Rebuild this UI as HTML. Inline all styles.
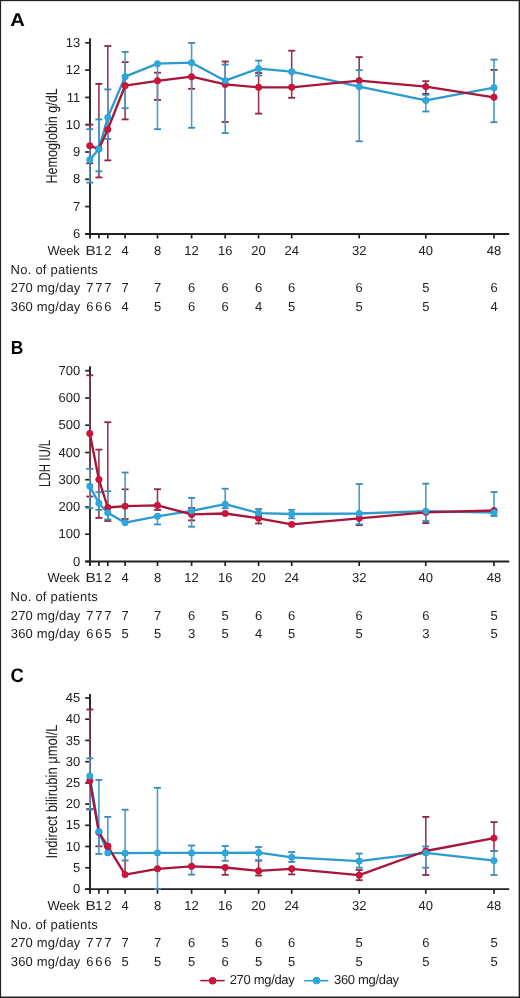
<!DOCTYPE html><html><head><meta charset="utf-8"><style>
html,body{margin:0;padding:0;background:#fff;}
svg{display:block;will-change:transform;}
text{font-family:"Liberation Sans",sans-serif;fill:#222;text-rendering:geometricPrecision;}
.t{font-size:13px;}
.yl{font-size:15.7px;}
.pl{font-size:18.6px;font-weight:700;fill:#000;}
</style></head><body>
<svg width="520" height="998" viewBox="0 0 520 998">
<rect x="0" y="0" width="520" height="998" fill="#fff"/>
<text class="pl" transform="translate(10.32 25.65) scale(1.090 1.000)">A</text>
<text class="yl" text-anchor="middle" textLength="95.4" lengthAdjust="spacingAndGlyphs" transform="translate(56.90 135.90) rotate(-90)" x="0" y="0">Hemoglobin g/dL</text>
<line x1="90" y1="38.3" x2="90" y2="238.5" stroke="#231F20" stroke-width="1.9"/>
<line x1="85.2" y1="234.0" x2="509.2" y2="234.0" stroke="#231F20" stroke-width="1.8"/>
<line x1="85.2" y1="42.8" x2="90" y2="42.8" stroke="#231F20" stroke-width="1.7"/>
<text class="t" text-anchor="end" x="80.3" y="46.9">13</text>
<line x1="85.2" y1="70.1" x2="90" y2="70.1" stroke="#231F20" stroke-width="1.7"/>
<text class="t" text-anchor="end" x="80.3" y="74.2">12</text>
<line x1="85.2" y1="97.4" x2="90" y2="97.4" stroke="#231F20" stroke-width="1.7"/>
<text class="t" text-anchor="end" x="80.3" y="101.5">11</text>
<line x1="85.2" y1="124.7" x2="90" y2="124.7" stroke="#231F20" stroke-width="1.7"/>
<text class="t" text-anchor="end" x="80.3" y="128.8">10</text>
<line x1="85.2" y1="152.0" x2="90" y2="152.0" stroke="#231F20" stroke-width="1.7"/>
<text class="t" text-anchor="end" x="80.3" y="156.1">9</text>
<line x1="85.2" y1="179.3" x2="90" y2="179.3" stroke="#231F20" stroke-width="1.7"/>
<text class="t" text-anchor="end" x="80.3" y="183.4">8</text>
<line x1="85.2" y1="206.6" x2="90" y2="206.6" stroke="#231F20" stroke-width="1.7"/>
<text class="t" text-anchor="end" x="80.3" y="210.7">7</text>
<line x1="85.2" y1="234.0" x2="90" y2="234.0" stroke="#231F20" stroke-width="1.7"/>
<text class="t" text-anchor="end" x="80.3" y="238.1">6</text>
<line x1="98.9" y1="234.0" x2="98.9" y2="238.5" stroke="#231F20" stroke-width="1.7"/>
<line x1="107.8" y1="234.0" x2="107.8" y2="238.5" stroke="#231F20" stroke-width="1.7"/>
<line x1="125.1" y1="234.0" x2="125.1" y2="238.5" stroke="#231F20" stroke-width="1.7"/>
<line x1="157.5" y1="234.0" x2="157.5" y2="238.5" stroke="#231F20" stroke-width="1.7"/>
<line x1="191.6" y1="234.0" x2="191.6" y2="238.5" stroke="#231F20" stroke-width="1.7"/>
<line x1="225.2" y1="234.0" x2="225.2" y2="238.5" stroke="#231F20" stroke-width="1.7"/>
<line x1="258.6" y1="234.0" x2="258.6" y2="238.5" stroke="#231F20" stroke-width="1.7"/>
<line x1="291.7" y1="234.0" x2="291.7" y2="238.5" stroke="#231F20" stroke-width="1.7"/>
<line x1="359.2" y1="234.0" x2="359.2" y2="238.5" stroke="#231F20" stroke-width="1.7"/>
<line x1="425.8" y1="234.0" x2="425.8" y2="238.5" stroke="#231F20" stroke-width="1.7"/>
<line x1="494.0" y1="234.0" x2="494.0" y2="238.5" stroke="#231F20" stroke-width="1.7"/>
<text class="t" text-anchor="end" x="79.4" y="254.85" letter-spacing="-0.3">Week</text>
<text class="t" x="10.6" y="273.75" letter-spacing="0.24">No. of patients</text>
<text class="t" x="10.8" y="292.10" letter-spacing="0.18">270 mg/day</text>
<text class="t" x="10.8" y="310.70" letter-spacing="0.18">360 mg/day</text>
<text class="t" x="85.5" y="254.85" textLength="10.2" lengthAdjust="spacingAndGlyphs">B</text>
<text class="t" text-anchor="middle" x="98.9" y="254.85">1</text>
<text class="t" text-anchor="middle" x="107.8" y="254.85">2</text>
<text class="t" text-anchor="middle" x="125.1" y="254.85">4</text>
<text class="t" text-anchor="middle" x="157.5" y="254.85">8</text>
<text class="t" text-anchor="middle" x="191.6" y="254.85">12</text>
<text class="t" text-anchor="middle" x="225.2" y="254.85">16</text>
<text class="t" text-anchor="middle" x="258.6" y="254.85">20</text>
<text class="t" text-anchor="middle" x="291.7" y="254.85">24</text>
<text class="t" text-anchor="middle" x="359.2" y="254.85">32</text>
<text class="t" text-anchor="middle" x="425.8" y="254.85">40</text>
<text class="t" text-anchor="middle" x="494.0" y="254.85">48</text>
<text class="t" text-anchor="middle" x="89.8" y="292.1">7</text>
<text class="t" text-anchor="middle" x="98.9" y="292.1">7</text>
<text class="t" text-anchor="middle" x="107.8" y="292.1">7</text>
<text class="t" text-anchor="middle" x="125.1" y="292.1">7</text>
<text class="t" text-anchor="middle" x="157.5" y="292.1">7</text>
<text class="t" text-anchor="middle" x="191.6" y="292.1">6</text>
<text class="t" text-anchor="middle" x="225.2" y="292.1">6</text>
<text class="t" text-anchor="middle" x="258.6" y="292.1">6</text>
<text class="t" text-anchor="middle" x="291.7" y="292.1">6</text>
<text class="t" text-anchor="middle" x="359.2" y="292.1">6</text>
<text class="t" text-anchor="middle" x="425.8" y="292.1">5</text>
<text class="t" text-anchor="middle" x="494.0" y="292.1">6</text>
<text class="t" text-anchor="middle" x="89.8" y="310.7">6</text>
<text class="t" text-anchor="middle" x="98.9" y="310.7">6</text>
<text class="t" text-anchor="middle" x="107.8" y="310.7">6</text>
<text class="t" text-anchor="middle" x="125.1" y="310.7">4</text>
<text class="t" text-anchor="middle" x="157.5" y="310.7">5</text>
<text class="t" text-anchor="middle" x="191.6" y="310.7">6</text>
<text class="t" text-anchor="middle" x="225.2" y="310.7">6</text>
<text class="t" text-anchor="middle" x="258.6" y="310.7">4</text>
<text class="t" text-anchor="middle" x="291.7" y="310.7">5</text>
<text class="t" text-anchor="middle" x="359.2" y="310.7">5</text>
<text class="t" text-anchor="middle" x="425.8" y="310.7">5</text>
<text class="t" text-anchor="middle" x="494.0" y="310.7">4</text>
<line x1="89.8" y1="124.6" x2="89.8" y2="163.3" stroke="#9A3655" stroke-width="1.6"/>
<line x1="86.3" y1="124.6" x2="93.3" y2="124.6" stroke="#8E2545" stroke-width="1.8"/>
<line x1="86.3" y1="163.3" x2="93.3" y2="163.3" stroke="#8E2545" stroke-width="1.8"/>
<line x1="98.9" y1="83.9" x2="98.9" y2="177.4" stroke="#9A3655" stroke-width="1.6"/>
<line x1="95.4" y1="83.9" x2="102.4" y2="83.9" stroke="#8E2545" stroke-width="1.8"/>
<line x1="95.4" y1="177.4" x2="102.4" y2="177.4" stroke="#8E2545" stroke-width="1.8"/>
<line x1="107.8" y1="46.0" x2="107.8" y2="160.4" stroke="#9A3655" stroke-width="1.6"/>
<line x1="104.3" y1="46.0" x2="111.3" y2="46.0" stroke="#8E2545" stroke-width="1.8"/>
<line x1="104.3" y1="160.4" x2="111.3" y2="160.4" stroke="#8E2545" stroke-width="1.8"/>
<line x1="125.1" y1="62.1" x2="125.1" y2="119.4" stroke="#9A3655" stroke-width="1.6"/>
<line x1="121.6" y1="62.1" x2="128.6" y2="62.1" stroke="#8E2545" stroke-width="1.8"/>
<line x1="121.6" y1="119.4" x2="128.6" y2="119.4" stroke="#8E2545" stroke-width="1.8"/>
<line x1="157.5" y1="72.7" x2="157.5" y2="99.9" stroke="#9A3655" stroke-width="1.6"/>
<line x1="154.0" y1="72.7" x2="161.0" y2="72.7" stroke="#8E2545" stroke-width="1.8"/>
<line x1="154.0" y1="99.9" x2="161.0" y2="99.9" stroke="#8E2545" stroke-width="1.8"/>
<line x1="191.6" y1="76.7" x2="191.6" y2="88.8" stroke="#9A3655" stroke-width="1.6"/>
<line x1="188.1" y1="88.8" x2="195.1" y2="88.8" stroke="#8E2545" stroke-width="1.8"/>
<line x1="225.2" y1="61.5" x2="225.2" y2="122.0" stroke="#9A3655" stroke-width="1.6"/>
<line x1="221.7" y1="61.5" x2="228.7" y2="61.5" stroke="#8E2545" stroke-width="1.8"/>
<line x1="221.7" y1="122.0" x2="228.7" y2="122.0" stroke="#8E2545" stroke-width="1.8"/>
<line x1="258.6" y1="73.0" x2="258.6" y2="113.6" stroke="#9A3655" stroke-width="1.6"/>
<line x1="255.1" y1="73.0" x2="262.1" y2="73.0" stroke="#8E2545" stroke-width="1.8"/>
<line x1="255.1" y1="113.6" x2="262.1" y2="113.6" stroke="#8E2545" stroke-width="1.8"/>
<line x1="291.7" y1="50.7" x2="291.7" y2="97.8" stroke="#9A3655" stroke-width="1.6"/>
<line x1="288.2" y1="50.7" x2="295.2" y2="50.7" stroke="#8E2545" stroke-width="1.8"/>
<line x1="288.2" y1="97.8" x2="295.2" y2="97.8" stroke="#8E2545" stroke-width="1.8"/>
<line x1="359.2" y1="57.1" x2="359.2" y2="80.6" stroke="#9A3655" stroke-width="1.6"/>
<line x1="355.7" y1="57.1" x2="362.7" y2="57.1" stroke="#8E2545" stroke-width="1.8"/>
<line x1="425.8" y1="81.2" x2="425.8" y2="93.9" stroke="#9A3655" stroke-width="1.6"/>
<line x1="422.3" y1="81.2" x2="429.3" y2="81.2" stroke="#8E2545" stroke-width="1.8"/>
<line x1="422.3" y1="93.9" x2="429.3" y2="93.9" stroke="#8E2545" stroke-width="1.8"/>
<line x1="494.0" y1="69.9" x2="494.0" y2="97.3" stroke="#9A3655" stroke-width="1.6"/>
<line x1="490.5" y1="69.9" x2="497.5" y2="69.9" stroke="#8E2545" stroke-width="1.8"/>
<line x1="89.8" y1="129.2" x2="89.8" y2="182.6" stroke="#4A9DCB" stroke-width="1.6"/>
<line x1="86.3" y1="129.2" x2="93.3" y2="129.2" stroke="#3A8AB8" stroke-width="1.8"/>
<line x1="86.3" y1="182.6" x2="93.3" y2="182.6" stroke="#3A8AB8" stroke-width="1.8"/>
<line x1="98.9" y1="119.4" x2="98.9" y2="171.3" stroke="#4A9DCB" stroke-width="1.6"/>
<line x1="95.4" y1="119.4" x2="102.4" y2="119.4" stroke="#3A8AB8" stroke-width="1.8"/>
<line x1="95.4" y1="171.3" x2="102.4" y2="171.3" stroke="#3A8AB8" stroke-width="1.8"/>
<line x1="107.8" y1="89.4" x2="107.8" y2="139.0" stroke="#4A9DCB" stroke-width="1.6"/>
<line x1="104.3" y1="89.4" x2="111.3" y2="89.4" stroke="#3A8AB8" stroke-width="1.8"/>
<line x1="104.3" y1="139.0" x2="111.3" y2="139.0" stroke="#3A8AB8" stroke-width="1.8"/>
<line x1="125.1" y1="51.9" x2="125.1" y2="108.2" stroke="#4A9DCB" stroke-width="1.6"/>
<line x1="121.6" y1="51.9" x2="128.6" y2="51.9" stroke="#3A8AB8" stroke-width="1.8"/>
<line x1="121.6" y1="108.2" x2="128.6" y2="108.2" stroke="#3A8AB8" stroke-width="1.8"/>
<line x1="157.5" y1="63.7" x2="157.5" y2="129.2" stroke="#4A9DCB" stroke-width="1.6"/>
<line x1="154.0" y1="129.2" x2="161.0" y2="129.2" stroke="#3A8AB8" stroke-width="1.8"/>
<line x1="191.6" y1="42.9" x2="191.6" y2="127.8" stroke="#4A9DCB" stroke-width="1.6"/>
<line x1="188.1" y1="42.9" x2="195.1" y2="42.9" stroke="#3A8AB8" stroke-width="1.8"/>
<line x1="188.1" y1="127.8" x2="195.1" y2="127.8" stroke="#3A8AB8" stroke-width="1.8"/>
<line x1="225.2" y1="64.6" x2="225.2" y2="133.1" stroke="#4A9DCB" stroke-width="1.6"/>
<line x1="221.7" y1="64.6" x2="228.7" y2="64.6" stroke="#3A8AB8" stroke-width="1.8"/>
<line x1="221.7" y1="133.1" x2="228.7" y2="133.1" stroke="#3A8AB8" stroke-width="1.8"/>
<line x1="258.6" y1="60.6" x2="258.6" y2="75.6" stroke="#4A9DCB" stroke-width="1.6"/>
<line x1="255.1" y1="60.6" x2="262.1" y2="60.6" stroke="#3A8AB8" stroke-width="1.8"/>
<line x1="255.1" y1="75.6" x2="262.1" y2="75.6" stroke="#3A8AB8" stroke-width="1.8"/>
<line x1="291.7" y1="71.7" x2="291.7" y2="87.0" stroke="#4A9DCB" stroke-width="1.6"/>
<line x1="288.2" y1="87.0" x2="295.2" y2="87.0" stroke="#3A8AB8" stroke-width="1.8"/>
<line x1="359.2" y1="70.2" x2="359.2" y2="141.3" stroke="#4A9DCB" stroke-width="1.6"/>
<line x1="355.7" y1="70.2" x2="362.7" y2="70.2" stroke="#3A8AB8" stroke-width="1.8"/>
<line x1="355.7" y1="141.3" x2="362.7" y2="141.3" stroke="#3A8AB8" stroke-width="1.8"/>
<line x1="425.8" y1="94.8" x2="425.8" y2="111.5" stroke="#4A9DCB" stroke-width="1.6"/>
<line x1="422.3" y1="94.8" x2="429.3" y2="94.8" stroke="#3A8AB8" stroke-width="1.8"/>
<line x1="422.3" y1="111.5" x2="429.3" y2="111.5" stroke="#3A8AB8" stroke-width="1.8"/>
<line x1="494.0" y1="59.6" x2="494.0" y2="122.2" stroke="#4A9DCB" stroke-width="1.6"/>
<line x1="490.5" y1="59.6" x2="497.5" y2="59.6" stroke="#3A8AB8" stroke-width="1.8"/>
<line x1="490.5" y1="122.2" x2="497.5" y2="122.2" stroke="#3A8AB8" stroke-width="1.8"/>
<polyline points="89.8,159.7 98.9,148.9 107.8,117.4 125.1,76.7 157.5,63.7 191.6,62.7 225.2,80.7 258.6,68.6 291.7,71.7 359.2,86.7 425.8,100.4 494.0,87.7" fill="none" stroke="#2C9BD0" stroke-width="2.35" stroke-linejoin="round"/>
<polyline points="89.8,145.8 98.9,148.8 107.8,129.4 125.1,85.7 157.5,80.8 191.6,76.7 225.2,84.4 258.6,87.3 291.7,87.3 359.2,80.6 425.8,86.6 494.0,97.3" fill="none" stroke="#A8153A" stroke-width="2.35" stroke-linejoin="round"/>
<circle cx="89.8" cy="145.8" r="3.20" fill="#D3123C" stroke="#A8122F" stroke-width="0.6"/>
<circle cx="98.9" cy="148.8" r="3.20" fill="#D3123C" stroke="#A8122F" stroke-width="0.6"/>
<circle cx="107.8" cy="129.4" r="3.20" fill="#D3123C" stroke="#A8122F" stroke-width="0.6"/>
<circle cx="125.1" cy="85.7" r="3.20" fill="#D3123C" stroke="#A8122F" stroke-width="0.6"/>
<circle cx="157.5" cy="80.8" r="3.20" fill="#D3123C" stroke="#A8122F" stroke-width="0.6"/>
<circle cx="191.6" cy="76.7" r="3.20" fill="#D3123C" stroke="#A8122F" stroke-width="0.6"/>
<circle cx="225.2" cy="84.4" r="3.20" fill="#D3123C" stroke="#A8122F" stroke-width="0.6"/>
<circle cx="258.6" cy="87.3" r="3.20" fill="#D3123C" stroke="#A8122F" stroke-width="0.6"/>
<circle cx="291.7" cy="87.3" r="3.20" fill="#D3123C" stroke="#A8122F" stroke-width="0.6"/>
<circle cx="359.2" cy="80.6" r="3.20" fill="#D3123C" stroke="#A8122F" stroke-width="0.6"/>
<circle cx="425.8" cy="86.6" r="3.20" fill="#D3123C" stroke="#A8122F" stroke-width="0.6"/>
<circle cx="494.0" cy="97.3" r="3.20" fill="#D3123C" stroke="#A8122F" stroke-width="0.6"/>
<circle cx="89.8" cy="159.7" r="3.20" fill="#29AAE1" stroke="#2A96C8" stroke-width="0.6"/>
<circle cx="98.9" cy="148.9" r="3.20" fill="#29AAE1" stroke="#2A96C8" stroke-width="0.6"/>
<circle cx="107.8" cy="117.4" r="3.20" fill="#29AAE1" stroke="#2A96C8" stroke-width="0.6"/>
<circle cx="125.1" cy="76.7" r="3.20" fill="#29AAE1" stroke="#2A96C8" stroke-width="0.6"/>
<circle cx="157.5" cy="63.7" r="3.20" fill="#29AAE1" stroke="#2A96C8" stroke-width="0.6"/>
<circle cx="191.6" cy="62.7" r="3.20" fill="#29AAE1" stroke="#2A96C8" stroke-width="0.6"/>
<circle cx="225.2" cy="80.7" r="3.20" fill="#29AAE1" stroke="#2A96C8" stroke-width="0.6"/>
<circle cx="258.6" cy="68.6" r="3.20" fill="#29AAE1" stroke="#2A96C8" stroke-width="0.6"/>
<circle cx="291.7" cy="71.7" r="3.20" fill="#29AAE1" stroke="#2A96C8" stroke-width="0.6"/>
<circle cx="359.2" cy="86.7" r="3.20" fill="#29AAE1" stroke="#2A96C8" stroke-width="0.6"/>
<circle cx="425.8" cy="100.4" r="3.20" fill="#29AAE1" stroke="#2A96C8" stroke-width="0.6"/>
<circle cx="494.0" cy="87.7" r="3.20" fill="#29AAE1" stroke="#2A96C8" stroke-width="0.6"/>
<text class="pl" transform="translate(10.83 353.55) scale(0.935 1.020)">B</text>
<text class="yl" text-anchor="middle" textLength="47.1" lengthAdjust="spacingAndGlyphs" transform="translate(49.90 463.35) rotate(-90)" x="0" y="0">LDH IU/L</text>
<line x1="90" y1="366.3" x2="90" y2="566.0" stroke="#231F20" stroke-width="1.9"/>
<line x1="85.2" y1="561.5" x2="509.2" y2="561.5" stroke="#231F20" stroke-width="1.8"/>
<line x1="85.2" y1="370.7" x2="90" y2="370.7" stroke="#231F20" stroke-width="1.7"/>
<text class="t" text-anchor="end" x="80.3" y="374.8">700</text>
<line x1="85.2" y1="398.0" x2="90" y2="398.0" stroke="#231F20" stroke-width="1.7"/>
<text class="t" text-anchor="end" x="80.3" y="402.1">600</text>
<line x1="85.2" y1="425.2" x2="90" y2="425.2" stroke="#231F20" stroke-width="1.7"/>
<text class="t" text-anchor="end" x="80.3" y="429.3">500</text>
<line x1="85.2" y1="452.5" x2="90" y2="452.5" stroke="#231F20" stroke-width="1.7"/>
<text class="t" text-anchor="end" x="80.3" y="456.6">400</text>
<line x1="85.2" y1="479.7" x2="90" y2="479.7" stroke="#231F20" stroke-width="1.7"/>
<text class="t" text-anchor="end" x="80.3" y="483.8">300</text>
<line x1="85.2" y1="507.0" x2="90" y2="507.0" stroke="#231F20" stroke-width="1.7"/>
<text class="t" text-anchor="end" x="80.3" y="511.1">200</text>
<line x1="85.2" y1="534.2" x2="90" y2="534.2" stroke="#231F20" stroke-width="1.7"/>
<text class="t" text-anchor="end" x="80.3" y="538.3">100</text>
<line x1="85.2" y1="561.5" x2="90" y2="561.5" stroke="#231F20" stroke-width="1.7"/>
<text class="t" text-anchor="end" x="80.3" y="565.6">0</text>
<line x1="98.9" y1="561.5" x2="98.9" y2="566.0" stroke="#231F20" stroke-width="1.7"/>
<line x1="107.8" y1="561.5" x2="107.8" y2="566.0" stroke="#231F20" stroke-width="1.7"/>
<line x1="125.1" y1="561.5" x2="125.1" y2="566.0" stroke="#231F20" stroke-width="1.7"/>
<line x1="157.5" y1="561.5" x2="157.5" y2="566.0" stroke="#231F20" stroke-width="1.7"/>
<line x1="191.6" y1="561.5" x2="191.6" y2="566.0" stroke="#231F20" stroke-width="1.7"/>
<line x1="225.2" y1="561.5" x2="225.2" y2="566.0" stroke="#231F20" stroke-width="1.7"/>
<line x1="258.6" y1="561.5" x2="258.6" y2="566.0" stroke="#231F20" stroke-width="1.7"/>
<line x1="291.7" y1="561.5" x2="291.7" y2="566.0" stroke="#231F20" stroke-width="1.7"/>
<line x1="359.2" y1="561.5" x2="359.2" y2="566.0" stroke="#231F20" stroke-width="1.7"/>
<line x1="425.8" y1="561.5" x2="425.8" y2="566.0" stroke="#231F20" stroke-width="1.7"/>
<line x1="494.0" y1="561.5" x2="494.0" y2="566.0" stroke="#231F20" stroke-width="1.7"/>
<text class="t" text-anchor="end" x="79.4" y="581.90" letter-spacing="-0.3">Week</text>
<text class="t" x="10.6" y="600.80" letter-spacing="0.24">No. of patients</text>
<text class="t" x="10.8" y="619.60" letter-spacing="0.18">270 mg/day</text>
<text class="t" x="10.8" y="638.20" letter-spacing="0.18">360 mg/day</text>
<text class="t" x="85.5" y="581.90" textLength="10.2" lengthAdjust="spacingAndGlyphs">B</text>
<text class="t" text-anchor="middle" x="98.9" y="581.90">1</text>
<text class="t" text-anchor="middle" x="107.8" y="581.90">2</text>
<text class="t" text-anchor="middle" x="125.1" y="581.90">4</text>
<text class="t" text-anchor="middle" x="157.5" y="581.90">8</text>
<text class="t" text-anchor="middle" x="191.6" y="581.90">12</text>
<text class="t" text-anchor="middle" x="225.2" y="581.90">16</text>
<text class="t" text-anchor="middle" x="258.6" y="581.90">20</text>
<text class="t" text-anchor="middle" x="291.7" y="581.90">24</text>
<text class="t" text-anchor="middle" x="359.2" y="581.90">32</text>
<text class="t" text-anchor="middle" x="425.8" y="581.90">40</text>
<text class="t" text-anchor="middle" x="494.0" y="581.90">48</text>
<text class="t" text-anchor="middle" x="89.8" y="619.6">7</text>
<text class="t" text-anchor="middle" x="98.9" y="619.6">7</text>
<text class="t" text-anchor="middle" x="107.8" y="619.6">7</text>
<text class="t" text-anchor="middle" x="125.1" y="619.6">7</text>
<text class="t" text-anchor="middle" x="157.5" y="619.6">7</text>
<text class="t" text-anchor="middle" x="191.6" y="619.6">6</text>
<text class="t" text-anchor="middle" x="225.2" y="619.6">5</text>
<text class="t" text-anchor="middle" x="258.6" y="619.6">6</text>
<text class="t" text-anchor="middle" x="291.7" y="619.6">6</text>
<text class="t" text-anchor="middle" x="359.2" y="619.6">6</text>
<text class="t" text-anchor="middle" x="425.8" y="619.6">6</text>
<text class="t" text-anchor="middle" x="494.0" y="619.6">5</text>
<text class="t" text-anchor="middle" x="89.8" y="638.2">6</text>
<text class="t" text-anchor="middle" x="98.9" y="638.2">6</text>
<text class="t" text-anchor="middle" x="107.8" y="638.2">5</text>
<text class="t" text-anchor="middle" x="125.1" y="638.2">5</text>
<text class="t" text-anchor="middle" x="157.5" y="638.2">5</text>
<text class="t" text-anchor="middle" x="191.6" y="638.2">3</text>
<text class="t" text-anchor="middle" x="225.2" y="638.2">5</text>
<text class="t" text-anchor="middle" x="258.6" y="638.2">4</text>
<text class="t" text-anchor="middle" x="291.7" y="638.2">5</text>
<text class="t" text-anchor="middle" x="359.2" y="638.2">5</text>
<text class="t" text-anchor="middle" x="425.8" y="638.2">3</text>
<text class="t" text-anchor="middle" x="494.0" y="638.2">5</text>
<line x1="89.8" y1="375.3" x2="89.8" y2="496.5" stroke="#9A3655" stroke-width="1.6"/>
<line x1="86.3" y1="375.3" x2="93.3" y2="375.3" stroke="#8E2545" stroke-width="1.8"/>
<line x1="86.3" y1="496.5" x2="93.3" y2="496.5" stroke="#8E2545" stroke-width="1.8"/>
<line x1="98.9" y1="449.6" x2="98.9" y2="517.9" stroke="#9A3655" stroke-width="1.6"/>
<line x1="95.4" y1="449.6" x2="102.4" y2="449.6" stroke="#8E2545" stroke-width="1.8"/>
<line x1="95.4" y1="517.9" x2="102.4" y2="517.9" stroke="#8E2545" stroke-width="1.8"/>
<line x1="107.8" y1="422.2" x2="107.8" y2="521.0" stroke="#9A3655" stroke-width="1.6"/>
<line x1="104.3" y1="422.2" x2="111.3" y2="422.2" stroke="#8E2545" stroke-width="1.8"/>
<line x1="104.3" y1="521.0" x2="111.3" y2="521.0" stroke="#8E2545" stroke-width="1.8"/>
<line x1="125.1" y1="489.3" x2="125.1" y2="519.0" stroke="#9A3655" stroke-width="1.6"/>
<line x1="121.6" y1="489.3" x2="128.6" y2="489.3" stroke="#8E2545" stroke-width="1.8"/>
<line x1="121.6" y1="519.0" x2="128.6" y2="519.0" stroke="#8E2545" stroke-width="1.8"/>
<line x1="157.5" y1="489.2" x2="157.5" y2="510.0" stroke="#9A3655" stroke-width="1.6"/>
<line x1="154.0" y1="489.2" x2="161.0" y2="489.2" stroke="#8E2545" stroke-width="1.8"/>
<line x1="154.0" y1="510.0" x2="161.0" y2="510.0" stroke="#8E2545" stroke-width="1.8"/>
<line x1="191.6" y1="508.0" x2="191.6" y2="520.4" stroke="#9A3655" stroke-width="1.6"/>
<line x1="188.1" y1="508.0" x2="195.1" y2="508.0" stroke="#8E2545" stroke-width="1.8"/>
<line x1="188.1" y1="520.4" x2="195.1" y2="520.4" stroke="#8E2545" stroke-width="1.8"/>
<line x1="225.2" y1="513.5" x2="225.2" y2="513.5" stroke="#9A3655" stroke-width="1.6"/>
<line x1="258.6" y1="513.0" x2="258.6" y2="523.5" stroke="#9A3655" stroke-width="1.6"/>
<line x1="255.1" y1="513.0" x2="262.1" y2="513.0" stroke="#8E2545" stroke-width="1.8"/>
<line x1="255.1" y1="523.5" x2="262.1" y2="523.5" stroke="#8E2545" stroke-width="1.8"/>
<line x1="291.7" y1="524.4" x2="291.7" y2="524.4" stroke="#9A3655" stroke-width="1.6"/>
<line x1="359.2" y1="518.3" x2="359.2" y2="525.2" stroke="#9A3655" stroke-width="1.6"/>
<line x1="355.7" y1="525.2" x2="362.7" y2="525.2" stroke="#8E2545" stroke-width="1.8"/>
<line x1="425.8" y1="512.3" x2="425.8" y2="523.1" stroke="#9A3655" stroke-width="1.6"/>
<line x1="422.3" y1="523.1" x2="429.3" y2="523.1" stroke="#8E2545" stroke-width="1.8"/>
<line x1="494.0" y1="510.5" x2="494.0" y2="510.5" stroke="#9A3655" stroke-width="1.6"/>
<line x1="89.8" y1="468.8" x2="89.8" y2="508.0" stroke="#4A9DCB" stroke-width="1.6"/>
<line x1="86.3" y1="468.8" x2="93.3" y2="468.8" stroke="#3A8AB8" stroke-width="1.8"/>
<line x1="86.3" y1="508.0" x2="93.3" y2="508.0" stroke="#3A8AB8" stroke-width="1.8"/>
<line x1="98.9" y1="492.2" x2="98.9" y2="509.8" stroke="#4A9DCB" stroke-width="1.6"/>
<line x1="95.4" y1="492.2" x2="102.4" y2="492.2" stroke="#3A8AB8" stroke-width="1.8"/>
<line x1="95.4" y1="509.8" x2="102.4" y2="509.8" stroke="#3A8AB8" stroke-width="1.8"/>
<line x1="107.8" y1="491.2" x2="107.8" y2="519.5" stroke="#4A9DCB" stroke-width="1.6"/>
<line x1="104.3" y1="491.2" x2="111.3" y2="491.2" stroke="#3A8AB8" stroke-width="1.8"/>
<line x1="104.3" y1="519.5" x2="111.3" y2="519.5" stroke="#3A8AB8" stroke-width="1.8"/>
<line x1="125.1" y1="472.5" x2="125.1" y2="522.7" stroke="#4A9DCB" stroke-width="1.6"/>
<line x1="121.6" y1="472.5" x2="128.6" y2="472.5" stroke="#3A8AB8" stroke-width="1.8"/>
<line x1="157.5" y1="516.3" x2="157.5" y2="524.4" stroke="#4A9DCB" stroke-width="1.6"/>
<line x1="154.0" y1="524.4" x2="161.0" y2="524.4" stroke="#3A8AB8" stroke-width="1.8"/>
<line x1="191.6" y1="497.9" x2="191.6" y2="526.7" stroke="#4A9DCB" stroke-width="1.6"/>
<line x1="188.1" y1="497.9" x2="195.1" y2="497.9" stroke="#3A8AB8" stroke-width="1.8"/>
<line x1="188.1" y1="526.7" x2="195.1" y2="526.7" stroke="#3A8AB8" stroke-width="1.8"/>
<line x1="225.2" y1="488.7" x2="225.2" y2="508.3" stroke="#4A9DCB" stroke-width="1.6"/>
<line x1="221.7" y1="488.7" x2="228.7" y2="488.7" stroke="#3A8AB8" stroke-width="1.8"/>
<line x1="221.7" y1="508.3" x2="228.7" y2="508.3" stroke="#3A8AB8" stroke-width="1.8"/>
<line x1="258.6" y1="509.0" x2="258.6" y2="516.0" stroke="#4A9DCB" stroke-width="1.6"/>
<line x1="255.1" y1="509.0" x2="262.1" y2="509.0" stroke="#3A8AB8" stroke-width="1.8"/>
<line x1="255.1" y1="516.0" x2="262.1" y2="516.0" stroke="#3A8AB8" stroke-width="1.8"/>
<line x1="291.7" y1="509.8" x2="291.7" y2="518.3" stroke="#4A9DCB" stroke-width="1.6"/>
<line x1="288.2" y1="509.8" x2="295.2" y2="509.8" stroke="#3A8AB8" stroke-width="1.8"/>
<line x1="288.2" y1="518.3" x2="295.2" y2="518.3" stroke="#3A8AB8" stroke-width="1.8"/>
<line x1="359.2" y1="484.0" x2="359.2" y2="524.3" stroke="#4A9DCB" stroke-width="1.6"/>
<line x1="355.7" y1="484.0" x2="362.7" y2="484.0" stroke="#3A8AB8" stroke-width="1.8"/>
<line x1="355.7" y1="524.3" x2="362.7" y2="524.3" stroke="#3A8AB8" stroke-width="1.8"/>
<line x1="425.8" y1="483.7" x2="425.8" y2="521.0" stroke="#4A9DCB" stroke-width="1.6"/>
<line x1="422.3" y1="483.7" x2="429.3" y2="483.7" stroke="#3A8AB8" stroke-width="1.8"/>
<line x1="422.3" y1="521.0" x2="429.3" y2="521.0" stroke="#3A8AB8" stroke-width="1.8"/>
<line x1="494.0" y1="492.0" x2="494.0" y2="516.0" stroke="#4A9DCB" stroke-width="1.6"/>
<line x1="490.5" y1="492.0" x2="497.5" y2="492.0" stroke="#3A8AB8" stroke-width="1.8"/>
<line x1="490.5" y1="516.0" x2="497.5" y2="516.0" stroke="#3A8AB8" stroke-width="1.8"/>
<polyline points="89.8,486.2 98.9,503.2 107.8,512.8 125.1,522.7 157.5,516.3 191.6,510.9 225.2,504.2 258.6,513.1 291.7,514.0 359.2,513.5 425.8,511.1 494.0,512.5" fill="none" stroke="#2C9BD0" stroke-width="2.35" stroke-linejoin="round"/>
<polyline points="89.8,433.5 98.9,479.5 107.8,507.5 125.1,506.2 157.5,505.4 191.6,514.4 225.2,513.5 258.6,518.3 291.7,524.4 359.2,518.3 425.8,512.3 494.0,510.5" fill="none" stroke="#A8153A" stroke-width="2.35" stroke-linejoin="round"/>
<circle cx="89.8" cy="433.5" r="3.20" fill="#D3123C" stroke="#A8122F" stroke-width="0.6"/>
<circle cx="98.9" cy="479.5" r="3.20" fill="#D3123C" stroke="#A8122F" stroke-width="0.6"/>
<circle cx="107.8" cy="507.5" r="3.20" fill="#D3123C" stroke="#A8122F" stroke-width="0.6"/>
<circle cx="125.1" cy="506.2" r="3.20" fill="#D3123C" stroke="#A8122F" stroke-width="0.6"/>
<circle cx="157.5" cy="505.4" r="3.20" fill="#D3123C" stroke="#A8122F" stroke-width="0.6"/>
<circle cx="191.6" cy="514.4" r="3.20" fill="#D3123C" stroke="#A8122F" stroke-width="0.6"/>
<circle cx="225.2" cy="513.5" r="3.20" fill="#D3123C" stroke="#A8122F" stroke-width="0.6"/>
<circle cx="258.6" cy="518.3" r="3.20" fill="#D3123C" stroke="#A8122F" stroke-width="0.6"/>
<circle cx="291.7" cy="524.4" r="3.20" fill="#D3123C" stroke="#A8122F" stroke-width="0.6"/>
<circle cx="359.2" cy="518.3" r="3.20" fill="#D3123C" stroke="#A8122F" stroke-width="0.6"/>
<circle cx="425.8" cy="512.3" r="3.20" fill="#D3123C" stroke="#A8122F" stroke-width="0.6"/>
<circle cx="494.0" cy="510.5" r="3.20" fill="#D3123C" stroke="#A8122F" stroke-width="0.6"/>
<circle cx="89.8" cy="486.2" r="3.20" fill="#29AAE1" stroke="#2A96C8" stroke-width="0.6"/>
<circle cx="98.9" cy="503.2" r="3.20" fill="#29AAE1" stroke="#2A96C8" stroke-width="0.6"/>
<circle cx="107.8" cy="512.8" r="3.20" fill="#29AAE1" stroke="#2A96C8" stroke-width="0.6"/>
<circle cx="125.1" cy="522.7" r="3.20" fill="#29AAE1" stroke="#2A96C8" stroke-width="0.6"/>
<circle cx="157.5" cy="516.3" r="3.20" fill="#29AAE1" stroke="#2A96C8" stroke-width="0.6"/>
<circle cx="191.6" cy="510.9" r="3.20" fill="#29AAE1" stroke="#2A96C8" stroke-width="0.6"/>
<circle cx="225.2" cy="504.2" r="3.20" fill="#29AAE1" stroke="#2A96C8" stroke-width="0.6"/>
<circle cx="258.6" cy="513.1" r="3.20" fill="#29AAE1" stroke="#2A96C8" stroke-width="0.6"/>
<circle cx="291.7" cy="514.0" r="3.20" fill="#29AAE1" stroke="#2A96C8" stroke-width="0.6"/>
<circle cx="359.2" cy="513.5" r="3.20" fill="#29AAE1" stroke="#2A96C8" stroke-width="0.6"/>
<circle cx="425.8" cy="511.1" r="3.20" fill="#29AAE1" stroke="#2A96C8" stroke-width="0.6"/>
<circle cx="494.0" cy="512.5" r="3.20" fill="#29AAE1" stroke="#2A96C8" stroke-width="0.6"/>
<text class="pl" transform="translate(10.60 681.75) scale(0.990 1.050)">C</text>
<text class="yl" text-anchor="middle" textLength="134.1" lengthAdjust="spacingAndGlyphs" transform="translate(56.90 791.45) rotate(-90)" x="0" y="0">Indirect bilirubin μmol/L</text>
<line x1="90" y1="694.0" x2="90" y2="893.7" stroke="#231F20" stroke-width="1.9"/>
<line x1="85.2" y1="889.2" x2="509.2" y2="889.2" stroke="#231F20" stroke-width="1.8"/>
<line x1="85.2" y1="698.0" x2="90" y2="698.0" stroke="#231F20" stroke-width="1.7"/>
<text class="t" text-anchor="end" x="80.3" y="702.1">45</text>
<line x1="85.2" y1="719.2" x2="90" y2="719.2" stroke="#231F20" stroke-width="1.7"/>
<text class="t" text-anchor="end" x="80.3" y="723.3">40</text>
<line x1="85.2" y1="740.4" x2="90" y2="740.4" stroke="#231F20" stroke-width="1.7"/>
<text class="t" text-anchor="end" x="80.3" y="744.5">35</text>
<line x1="85.2" y1="761.7" x2="90" y2="761.7" stroke="#231F20" stroke-width="1.7"/>
<text class="t" text-anchor="end" x="80.3" y="765.8">30</text>
<line x1="85.2" y1="782.9" x2="90" y2="782.9" stroke="#231F20" stroke-width="1.7"/>
<text class="t" text-anchor="end" x="80.3" y="787.0">25</text>
<line x1="85.2" y1="804.1" x2="90" y2="804.1" stroke="#231F20" stroke-width="1.7"/>
<text class="t" text-anchor="end" x="80.3" y="808.2">20</text>
<line x1="85.2" y1="825.3" x2="90" y2="825.3" stroke="#231F20" stroke-width="1.7"/>
<text class="t" text-anchor="end" x="80.3" y="829.4">15</text>
<line x1="85.2" y1="846.5" x2="90" y2="846.5" stroke="#231F20" stroke-width="1.7"/>
<text class="t" text-anchor="end" x="80.3" y="850.6">10</text>
<line x1="85.2" y1="867.8" x2="90" y2="867.8" stroke="#231F20" stroke-width="1.7"/>
<text class="t" text-anchor="end" x="80.3" y="871.9">5</text>
<line x1="85.2" y1="889.2" x2="90" y2="889.2" stroke="#231F20" stroke-width="1.7"/>
<text class="t" text-anchor="end" x="80.3" y="893.3">0</text>
<line x1="98.9" y1="889.2" x2="98.9" y2="893.7" stroke="#231F20" stroke-width="1.7"/>
<line x1="107.8" y1="889.2" x2="107.8" y2="893.7" stroke="#231F20" stroke-width="1.7"/>
<line x1="125.1" y1="889.2" x2="125.1" y2="893.7" stroke="#231F20" stroke-width="1.7"/>
<line x1="157.5" y1="889.2" x2="157.5" y2="893.7" stroke="#231F20" stroke-width="1.7"/>
<line x1="191.6" y1="889.2" x2="191.6" y2="893.7" stroke="#231F20" stroke-width="1.7"/>
<line x1="225.2" y1="889.2" x2="225.2" y2="893.7" stroke="#231F20" stroke-width="1.7"/>
<line x1="258.6" y1="889.2" x2="258.6" y2="893.7" stroke="#231F20" stroke-width="1.7"/>
<line x1="291.7" y1="889.2" x2="291.7" y2="893.7" stroke="#231F20" stroke-width="1.7"/>
<line x1="359.2" y1="889.2" x2="359.2" y2="893.7" stroke="#231F20" stroke-width="1.7"/>
<line x1="425.8" y1="889.2" x2="425.8" y2="893.7" stroke="#231F20" stroke-width="1.7"/>
<line x1="494.0" y1="889.2" x2="494.0" y2="893.7" stroke="#231F20" stroke-width="1.7"/>
<text class="t" text-anchor="end" x="79.4" y="909.60" letter-spacing="-0.3">Week</text>
<text class="t" x="10.6" y="928.50" letter-spacing="0.24">No. of patients</text>
<text class="t" x="10.8" y="947.30" letter-spacing="0.18">270 mg/day</text>
<text class="t" x="10.8" y="965.90" letter-spacing="0.18">360 mg/day</text>
<text class="t" x="85.5" y="909.60" textLength="10.2" lengthAdjust="spacingAndGlyphs">B</text>
<text class="t" text-anchor="middle" x="98.9" y="909.60">1</text>
<text class="t" text-anchor="middle" x="107.8" y="909.60">2</text>
<text class="t" text-anchor="middle" x="125.1" y="909.60">4</text>
<text class="t" text-anchor="middle" x="157.5" y="909.60">8</text>
<text class="t" text-anchor="middle" x="191.6" y="909.60">12</text>
<text class="t" text-anchor="middle" x="225.2" y="909.60">16</text>
<text class="t" text-anchor="middle" x="258.6" y="909.60">20</text>
<text class="t" text-anchor="middle" x="291.7" y="909.60">24</text>
<text class="t" text-anchor="middle" x="359.2" y="909.60">32</text>
<text class="t" text-anchor="middle" x="425.8" y="909.60">40</text>
<text class="t" text-anchor="middle" x="494.0" y="909.60">48</text>
<text class="t" text-anchor="middle" x="89.8" y="947.3">7</text>
<text class="t" text-anchor="middle" x="98.9" y="947.3">7</text>
<text class="t" text-anchor="middle" x="107.8" y="947.3">7</text>
<text class="t" text-anchor="middle" x="125.1" y="947.3">7</text>
<text class="t" text-anchor="middle" x="157.5" y="947.3">7</text>
<text class="t" text-anchor="middle" x="191.6" y="947.3">6</text>
<text class="t" text-anchor="middle" x="225.2" y="947.3">5</text>
<text class="t" text-anchor="middle" x="258.6" y="947.3">6</text>
<text class="t" text-anchor="middle" x="291.7" y="947.3">6</text>
<text class="t" text-anchor="middle" x="359.2" y="947.3">5</text>
<text class="t" text-anchor="middle" x="425.8" y="947.3">6</text>
<text class="t" text-anchor="middle" x="494.0" y="947.3">5</text>
<text class="t" text-anchor="middle" x="89.8" y="965.9">6</text>
<text class="t" text-anchor="middle" x="98.9" y="965.9">6</text>
<text class="t" text-anchor="middle" x="107.8" y="965.9">6</text>
<text class="t" text-anchor="middle" x="125.1" y="965.9">5</text>
<text class="t" text-anchor="middle" x="157.5" y="965.9">5</text>
<text class="t" text-anchor="middle" x="191.6" y="965.9">5</text>
<text class="t" text-anchor="middle" x="225.2" y="965.9">6</text>
<text class="t" text-anchor="middle" x="258.6" y="965.9">5</text>
<text class="t" text-anchor="middle" x="291.7" y="965.9">5</text>
<text class="t" text-anchor="middle" x="359.2" y="965.9">5</text>
<text class="t" text-anchor="middle" x="425.8" y="965.9">5</text>
<text class="t" text-anchor="middle" x="494.0" y="965.9">5</text>
<line x1="89.8" y1="709.5" x2="89.8" y2="809.0" stroke="#9A3655" stroke-width="1.6"/>
<line x1="86.3" y1="709.5" x2="93.3" y2="709.5" stroke="#8E2545" stroke-width="1.8"/>
<line x1="86.3" y1="809.0" x2="93.3" y2="809.0" stroke="#8E2545" stroke-width="1.8"/>
<line x1="98.9" y1="832.5" x2="98.9" y2="846.3" stroke="#9A3655" stroke-width="1.6"/>
<line x1="95.4" y1="846.3" x2="102.4" y2="846.3" stroke="#8E2545" stroke-width="1.8"/>
<line x1="107.8" y1="846.3" x2="107.8" y2="846.3" stroke="#9A3655" stroke-width="1.6"/>
<line x1="125.1" y1="853.2" x2="125.1" y2="874.6" stroke="#9A3655" stroke-width="1.6"/>
<line x1="121.6" y1="853.2" x2="128.6" y2="853.2" stroke="#8E2545" stroke-width="1.8"/>
<line x1="157.5" y1="868.8" x2="157.5" y2="868.8" stroke="#9A3655" stroke-width="1.6"/>
<line x1="191.6" y1="866.3" x2="191.6" y2="866.3" stroke="#9A3655" stroke-width="1.6"/>
<line x1="225.2" y1="867.5" x2="225.2" y2="874.8" stroke="#9A3655" stroke-width="1.6"/>
<line x1="221.7" y1="874.8" x2="228.7" y2="874.8" stroke="#8E2545" stroke-width="1.8"/>
<line x1="258.6" y1="860.5" x2="258.6" y2="875.5" stroke="#9A3655" stroke-width="1.6"/>
<line x1="255.1" y1="860.5" x2="262.1" y2="860.5" stroke="#8E2545" stroke-width="1.8"/>
<line x1="255.1" y1="875.5" x2="262.1" y2="875.5" stroke="#8E2545" stroke-width="1.8"/>
<line x1="291.7" y1="868.8" x2="291.7" y2="874.4" stroke="#9A3655" stroke-width="1.6"/>
<line x1="288.2" y1="874.4" x2="295.2" y2="874.4" stroke="#8E2545" stroke-width="1.8"/>
<line x1="359.2" y1="870.0" x2="359.2" y2="880.2" stroke="#9A3655" stroke-width="1.6"/>
<line x1="355.7" y1="870.0" x2="362.7" y2="870.0" stroke="#8E2545" stroke-width="1.8"/>
<line x1="355.7" y1="880.2" x2="362.7" y2="880.2" stroke="#8E2545" stroke-width="1.8"/>
<line x1="425.8" y1="816.9" x2="425.8" y2="875.0" stroke="#9A3655" stroke-width="1.6"/>
<line x1="422.3" y1="816.9" x2="429.3" y2="816.9" stroke="#8E2545" stroke-width="1.8"/>
<line x1="422.3" y1="875.0" x2="429.3" y2="875.0" stroke="#8E2545" stroke-width="1.8"/>
<line x1="494.0" y1="822.1" x2="494.0" y2="851.0" stroke="#9A3655" stroke-width="1.6"/>
<line x1="490.5" y1="822.1" x2="497.5" y2="822.1" stroke="#8E2545" stroke-width="1.8"/>
<line x1="490.5" y1="851.0" x2="497.5" y2="851.0" stroke="#8E2545" stroke-width="1.8"/>
<line x1="89.8" y1="758.4" x2="89.8" y2="809.7" stroke="#4A9DCB" stroke-width="1.6"/>
<line x1="86.3" y1="758.4" x2="93.3" y2="758.4" stroke="#3A8AB8" stroke-width="1.8"/>
<line x1="86.3" y1="809.7" x2="93.3" y2="809.7" stroke="#3A8AB8" stroke-width="1.8"/>
<line x1="98.9" y1="779.9" x2="98.9" y2="853.9" stroke="#4A9DCB" stroke-width="1.6"/>
<line x1="95.4" y1="779.9" x2="102.4" y2="779.9" stroke="#3A8AB8" stroke-width="1.8"/>
<line x1="95.4" y1="853.9" x2="102.4" y2="853.9" stroke="#3A8AB8" stroke-width="1.8"/>
<line x1="107.8" y1="816.9" x2="107.8" y2="852.9" stroke="#4A9DCB" stroke-width="1.6"/>
<line x1="104.3" y1="816.9" x2="111.3" y2="816.9" stroke="#3A8AB8" stroke-width="1.8"/>
<line x1="125.1" y1="809.7" x2="125.1" y2="860.5" stroke="#4A9DCB" stroke-width="1.6"/>
<line x1="121.6" y1="809.7" x2="128.6" y2="809.7" stroke="#3A8AB8" stroke-width="1.8"/>
<line x1="121.6" y1="860.5" x2="128.6" y2="860.5" stroke="#3A8AB8" stroke-width="1.8"/>
<line x1="157.5" y1="787.8" x2="157.5" y2="889.0" stroke="#4A9DCB" stroke-width="1.6"/>
<line x1="154.0" y1="787.8" x2="161.0" y2="787.8" stroke="#3A8AB8" stroke-width="1.8"/>
<line x1="154.0" y1="889.0" x2="161.0" y2="889.0" stroke="#3A8AB8" stroke-width="1.8"/>
<line x1="191.6" y1="845.5" x2="191.6" y2="874.6" stroke="#4A9DCB" stroke-width="1.6"/>
<line x1="188.1" y1="845.5" x2="195.1" y2="845.5" stroke="#3A8AB8" stroke-width="1.8"/>
<line x1="188.1" y1="874.6" x2="195.1" y2="874.6" stroke="#3A8AB8" stroke-width="1.8"/>
<line x1="225.2" y1="846.0" x2="225.2" y2="860.8" stroke="#4A9DCB" stroke-width="1.6"/>
<line x1="221.7" y1="846.0" x2="228.7" y2="846.0" stroke="#3A8AB8" stroke-width="1.8"/>
<line x1="221.7" y1="860.8" x2="228.7" y2="860.8" stroke="#3A8AB8" stroke-width="1.8"/>
<line x1="258.6" y1="847.0" x2="258.6" y2="860.5" stroke="#4A9DCB" stroke-width="1.6"/>
<line x1="255.1" y1="847.0" x2="262.1" y2="847.0" stroke="#3A8AB8" stroke-width="1.8"/>
<line x1="255.1" y1="860.5" x2="262.1" y2="860.5" stroke="#3A8AB8" stroke-width="1.8"/>
<line x1="291.7" y1="852.0" x2="291.7" y2="862.0" stroke="#4A9DCB" stroke-width="1.6"/>
<line x1="288.2" y1="852.0" x2="295.2" y2="852.0" stroke="#3A8AB8" stroke-width="1.8"/>
<line x1="288.2" y1="862.0" x2="295.2" y2="862.0" stroke="#3A8AB8" stroke-width="1.8"/>
<line x1="359.2" y1="853.6" x2="359.2" y2="867.7" stroke="#4A9DCB" stroke-width="1.6"/>
<line x1="355.7" y1="853.6" x2="362.7" y2="853.6" stroke="#3A8AB8" stroke-width="1.8"/>
<line x1="355.7" y1="867.7" x2="362.7" y2="867.7" stroke="#3A8AB8" stroke-width="1.8"/>
<line x1="425.8" y1="846.5" x2="425.8" y2="867.7" stroke="#4A9DCB" stroke-width="1.6"/>
<line x1="422.3" y1="846.5" x2="429.3" y2="846.5" stroke="#3A8AB8" stroke-width="1.8"/>
<line x1="422.3" y1="867.7" x2="429.3" y2="867.7" stroke="#3A8AB8" stroke-width="1.8"/>
<line x1="494.0" y1="851.0" x2="494.0" y2="875.0" stroke="#4A9DCB" stroke-width="1.6"/>
<line x1="490.5" y1="851.0" x2="497.5" y2="851.0" stroke="#3A8AB8" stroke-width="1.8"/>
<line x1="490.5" y1="875.0" x2="497.5" y2="875.0" stroke="#3A8AB8" stroke-width="1.8"/>
<polyline points="89.8,776.0 98.9,831.5 107.8,852.9 125.1,853.2 157.5,852.9 191.6,852.9 225.2,852.9 258.6,852.7 291.7,857.3 359.2,861.1 425.8,852.9 494.0,860.6" fill="none" stroke="#2C9BD0" stroke-width="2.35" stroke-linejoin="round"/>
<polyline points="89.8,780.8 98.9,832.5 107.8,846.3 125.1,874.6 157.5,868.8 191.6,866.3 225.2,867.5 258.6,870.9 291.7,868.8 359.2,875.2 425.8,851.0 494.0,838.1" fill="none" stroke="#A8153A" stroke-width="2.35" stroke-linejoin="round"/>
<circle cx="89.8" cy="780.8" r="3.20" fill="#D3123C" stroke="#A8122F" stroke-width="0.6"/>
<circle cx="98.9" cy="832.5" r="3.20" fill="#D3123C" stroke="#A8122F" stroke-width="0.6"/>
<circle cx="107.8" cy="846.3" r="3.20" fill="#D3123C" stroke="#A8122F" stroke-width="0.6"/>
<circle cx="125.1" cy="874.6" r="3.20" fill="#D3123C" stroke="#A8122F" stroke-width="0.6"/>
<circle cx="157.5" cy="868.8" r="3.20" fill="#D3123C" stroke="#A8122F" stroke-width="0.6"/>
<circle cx="191.6" cy="866.3" r="3.20" fill="#D3123C" stroke="#A8122F" stroke-width="0.6"/>
<circle cx="225.2" cy="867.5" r="3.20" fill="#D3123C" stroke="#A8122F" stroke-width="0.6"/>
<circle cx="258.6" cy="870.9" r="3.20" fill="#D3123C" stroke="#A8122F" stroke-width="0.6"/>
<circle cx="291.7" cy="868.8" r="3.20" fill="#D3123C" stroke="#A8122F" stroke-width="0.6"/>
<circle cx="359.2" cy="875.2" r="3.20" fill="#D3123C" stroke="#A8122F" stroke-width="0.6"/>
<circle cx="425.8" cy="851.0" r="3.20" fill="#D3123C" stroke="#A8122F" stroke-width="0.6"/>
<circle cx="494.0" cy="838.1" r="3.20" fill="#D3123C" stroke="#A8122F" stroke-width="0.6"/>
<circle cx="89.8" cy="776.0" r="3.20" fill="#29AAE1" stroke="#2A96C8" stroke-width="0.6"/>
<circle cx="98.9" cy="831.5" r="3.20" fill="#29AAE1" stroke="#2A96C8" stroke-width="0.6"/>
<circle cx="107.8" cy="852.9" r="3.20" fill="#29AAE1" stroke="#2A96C8" stroke-width="0.6"/>
<circle cx="125.1" cy="853.2" r="3.20" fill="#29AAE1" stroke="#2A96C8" stroke-width="0.6"/>
<circle cx="157.5" cy="852.9" r="3.20" fill="#29AAE1" stroke="#2A96C8" stroke-width="0.6"/>
<circle cx="191.6" cy="852.9" r="3.20" fill="#29AAE1" stroke="#2A96C8" stroke-width="0.6"/>
<circle cx="225.2" cy="852.9" r="3.20" fill="#29AAE1" stroke="#2A96C8" stroke-width="0.6"/>
<circle cx="258.6" cy="852.7" r="3.20" fill="#29AAE1" stroke="#2A96C8" stroke-width="0.6"/>
<circle cx="291.7" cy="857.3" r="3.20" fill="#29AAE1" stroke="#2A96C8" stroke-width="0.6"/>
<circle cx="359.2" cy="861.1" r="3.20" fill="#29AAE1" stroke="#2A96C8" stroke-width="0.6"/>
<circle cx="425.8" cy="852.9" r="3.20" fill="#29AAE1" stroke="#2A96C8" stroke-width="0.6"/>
<circle cx="494.0" cy="860.6" r="3.20" fill="#29AAE1" stroke="#2A96C8" stroke-width="0.6"/>
<circle cx="107.8" cy="846.3" r="3.20" fill="#D3123C" stroke="#A8122F" stroke-width="0.6"/>
<line x1="200.3" y1="980.6" x2="224.7" y2="980.6" stroke="#A8153A" stroke-width="1.6"/>
<circle cx="212.6" cy="980.7" r="3.5" fill="#D3123C" stroke="#A8122F" stroke-width="0.6"/>
<text class="t" x="229.7" y="984.3" letter-spacing="-0.32">270 mg/day</text>
<line x1="304.2" y1="980.7" x2="328.4" y2="980.7" stroke="#2C9BD0" stroke-width="1.6"/>
<circle cx="316.5" cy="980.6" r="3.5" fill="#29AAE1" stroke="#2A96C8" stroke-width="0.6"/>
<text class="t" x="334.0" y="984.3" letter-spacing="-0.32">360 mg/day</text>
<rect x="0" y="0" width="1.1" height="998" fill="#222"/>
<rect x="0" y="0" width="520" height="1.15" fill="#222"/>
<rect x="518.65" y="0" width="1.35" height="998" fill="#222"/>
<rect x="0" y="996.5" width="520" height="1.5" fill="#222"/>
</svg></body></html>
